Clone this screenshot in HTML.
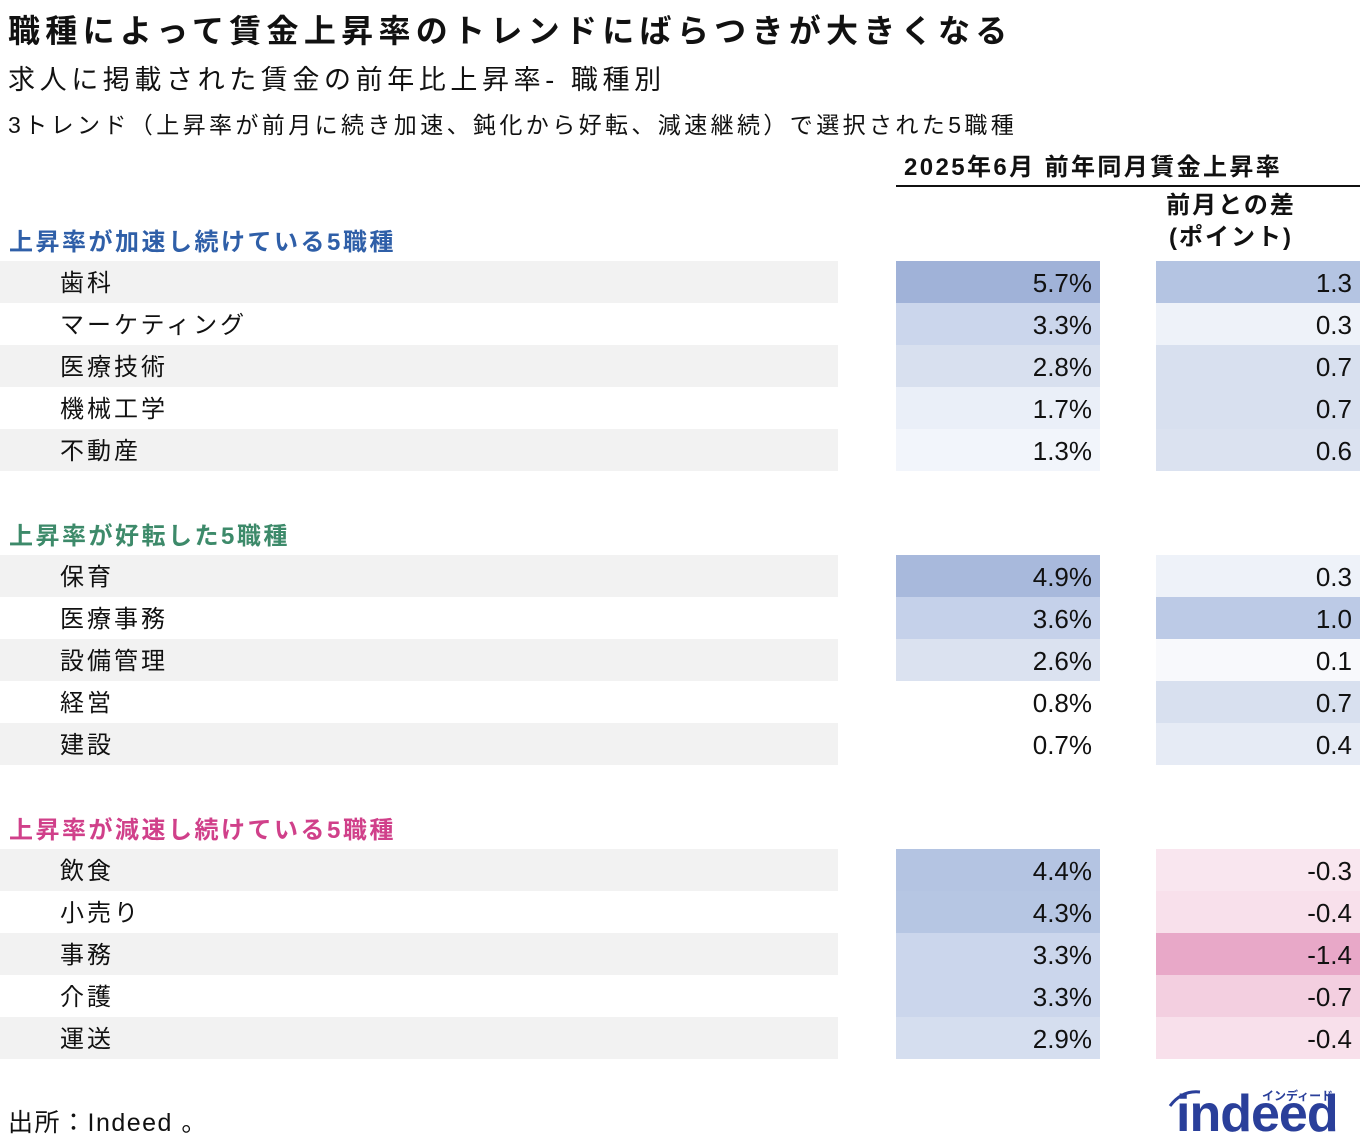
<!DOCTYPE html>
<html><head><meta charset="utf-8"><style>
body{margin:0;width:1360px;height:1145px;background:#fff;font-family:"Liberation Sans","Noto Sans CJK JP",sans-serif;color:#111;position:relative;overflow:hidden}
.a{position:absolute;white-space:nowrap}
.row{position:absolute;left:0;width:1360px;height:42px}
.lab{position:absolute;left:0;width:838px;height:42px}
.lab span{position:absolute;left:60px;top:2px;font-size:24px;letter-spacing:3px}
.v{position:absolute;left:896px;width:204px;height:42px;text-align:right;font-size:26px;line-height:44px;box-sizing:border-box;padding-right:8px}
.d{position:absolute;left:1156px;width:204px;height:42px;text-align:right;font-size:26px;line-height:44px;box-sizing:border-box;padding-right:8px}
.h{position:absolute;left:9px;font-size:24px;font-weight:bold;letter-spacing:2.5px}
</style></head><body>
<div class="a" style="left:8px;top:6px;font-size:32px;font-weight:bold;letter-spacing:5.3px">職種によって賃金上昇率のトレンドにばらつきが大きくなる</div>
<div class="a" style="left:8px;top:58px;font-size:27px;letter-spacing:4.6px">求人に掲載された賃金の前年比上昇率- 職種別</div>
<div class="a" style="left:8px;top:106px;font-size:23px;letter-spacing:3.4px">3トレンド（上昇率が前月に続き加速、鈍化から好転、減速継続）で選択された5職種</div>
<div class="a" style="left:904px;top:147px;font-size:24px;font-weight:bold;letter-spacing:2.4px">2025年6月 前年同月賃金上昇率</div>
<div class="a" style="left:896px;top:185px;width:464px;height:2px;background:#111"></div>
<div class="a" style="left:1150px;top:190px;width:162px;text-align:center;font-size:24px;font-weight:bold;line-height:32px;letter-spacing:2px">前月との差<br>(ポイント)</div>
<div class="h" style="top:222px;color:#2f5fa8">上昇率が加速し続けている5職種</div>
<div class="h" style="top:516px;color:#3d8a6a">上昇率が好転した5職種</div>
<div class="h" style="top:810px;color:#d0408a">上昇率が減速し続けている5職種</div>
<div id="rows"></div>
<script>
var data=[
[261,[["歯科","5.7%","#a0b2d8","1.3","#b4c4e2"],["マーケティング","3.3%","#cbd6ec","0.3","#eef2f9"],["医療技術","2.8%","#d8e0ef","0.7","#d8e0ef"],["機械工学","1.7%","#eaeff8","0.7","#d8e0ef"],["不動産","1.3%","#f2f5fb","0.6","#dbe2f0"]]],
[555,[["保育","4.9%","#a8b9dc","0.3","#eef2f9"],["医療事務","3.6%","#c5d1ea","1.0","#bccae6"],["設備管理","2.6%","#dbe2f0","0.1","#f8f9fc"],["経営","0.8%","#ffffff","0.7","#d8e0ef"],["建設","0.7%","#ffffff","0.4","#e6ebf5"]]],
[849,[["飲食","4.4%","#b4c4e2","-0.3","#f9e6ef"],["小売り","4.3%","#b6c6e3","-0.4","#f8e0eb"],["事務","3.3%","#cbd6ec","-1.4","#e8a8c8"],["介護","3.3%","#cbd6ec","-0.7","#f3cfe0"],["運送","2.9%","#d5deef","-0.4","#f8e0eb"]]]];
var h="";
data.forEach(function(s){s[1].forEach(function(r,i){var y=s[0]+i*42;
h+='<div class="row" style="top:'+y+'px"><div class="lab" style="background:'+(i%2==0?'#f2f2f2':'#fff')+'"><span>'+r[0]+'</span></div><div class="v" style="background:'+r[2]+'">'+r[1]+'</div><div class="d" style="background:'+r[4]+'">'+r[3]+'</div></div>';});});
document.getElementById("rows").innerHTML=h;
</script>
<div class="a" style="left:8px;top:1103px;font-size:25px;letter-spacing:1.5px">出所：Indeed 。</div>
<div class="a" style="left:1262px;top:1087px;font-size:12px;color:#2a3f9a;font-weight:bold">インディード</div>
<div class="a" style="left:1176px;top:1084px;font-size:52px;font-weight:bold;color:#2a3f9a;letter-spacing:-1px">indeed</div>
<svg class="a" style="left:1166px;top:1088px" width="40" height="20"><path d="M4 18 Q16 2 34 4" stroke="#2a3f9a" stroke-width="3" fill="none"/></svg>
</body></html>
